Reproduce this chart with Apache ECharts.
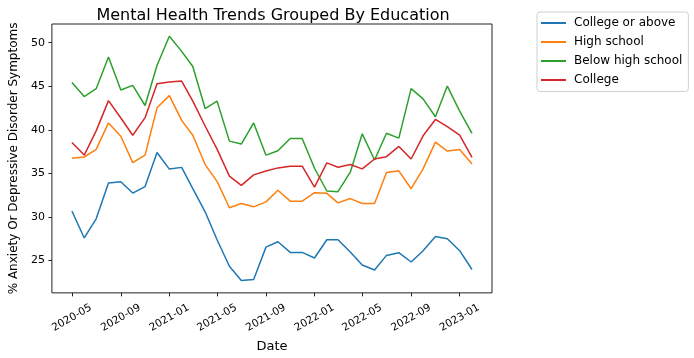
<!DOCTYPE html>
<html>
<head>
<meta charset="utf-8">
<script src="https://cdn.jsdelivr.net/npm/echarts@6/dist/echarts.min.js"></script>
<style>
  html, body { margin: 0; padding: 0; background: #fff; }
  #chart { width: 694px; height: 358px; }
</style>
</head>
<body>
<div id="chart"></div>
<script>
const months = ['2020-05','2020-06','2020-07','2020-08','2020-09','2020-10','2020-11','2020-12',
  '2021-01','2021-02','2021-03','2021-04','2021-05','2021-06','2021-07','2021-08','2021-09','2021-10','2021-11','2021-12',
  '2022-01','2022-02','2022-03','2022-04','2022-05','2022-06','2022-07','2022-08','2022-09','2022-10','2022-11','2022-12',
  '2023-01','2023-02'];

const collegeOrAbove = [30.7, 27.6, 29.8, 33.9, 34.05, 32.75, 33.5, 37.4, 35.5, 35.7, 33.25, 30.6, 27.4, 24.35, 22.72, 22.84,
  26.55, 27.16, 25.94, 25.94, 25.3, 27.39, 27.39, 25.98, 24.5, 23.93, 25.6, 25.91, 24.84, 26.14, 27.76, 27.5, 26.14, 23.98];
const highSchool = [36.74, 36.89, 37.76, 40.8, 39.27, 36.25, 37.11, 42.53, 43.93, 41.09, 39.39, 36.02, 34.09, 31.06, 31.55, 31.17,
  31.74, 33.07, 31.82, 31.82, 32.8, 32.72, 31.63, 32.12, 31.55, 31.55, 35.11, 35.3, 33.25, 35.53, 38.6, 37.57, 37.76, 36.09];
const belowHighSchool = [45.45, 43.82, 44.73, 48.36, 44.58, 45.11, 42.8, 47.39, 50.75, 49.01, 47.27, 42.45, 43.3, 38.71, 38.37, 40.8,
  37.1, 37.61, 39.01, 39.01, 35.6, 32.99, 32.91, 35.15, 39.55, 36.55, 39.61, 39.05, 44.73, 43.56, 41.51, 45.03, 42.16, 39.61];
const college = [38.56, 37.11, 39.89, 43.36, 41.36, 39.39, 41.4, 45.3, 45.5, 45.6, 43.3, 40.45, 37.8, 34.69, 33.63, 34.84,
  35.28, 35.64, 35.83, 35.83, 33.44, 36.21, 35.72, 36.02, 35.53, 36.66, 36.93, 38.1, 36.66, 39.32, 41.2, 40.38, 39.39, 36.85];

const seriesNames = ['College or above', 'High school', 'Below high school', 'College'];
const seriesValues = [collegeOrAbove, highSchool, belowHighSchool, college];
const seriesColors = ['#1f77b4', '#ff7f0e', '#2ca02c', '#d62728'];

const xTickLabels = ['2020-05','2020-09','2021-01','2021-05','2021-09','2022-01','2022-05','2022-09','2023-01'];
const yTickValues = [25, 30, 35, 40, 45, 50];

function ts(m) {
  const p = m.split('-');
  return Date.UTC(+p[0], +p[1] - 1, 1);
}
function fmt(v) {
  const d = new Date(Math.round(v));
  const mm = d.getUTCMonth() + 1;
  return d.getUTCFullYear() + '-' + (mm < 10 ? '0' : '') + mm;
}

const first = ts(months[0]);
const last = ts(months[months.length - 1]);
const margin = (last - first) * 0.05;
const xTickValues = xTickLabels.map(ts);

const FONT = 'DejaVu Sans';
const chart = echarts.init(document.getElementById('chart'), null, { renderer: 'canvas' });

chart.setOption({
  animation: false,
  backgroundColor: '#fff',
  textStyle: { fontFamily: FONT },
  title: {
    text: 'Mental Health Trends Grouped By Education',
    left: 268, top: 3, textAlign: 'center',
    textStyle: { fontFamily: FONT, fontSize: 16, fontWeight: 'normal', color: '#000' }
  },
  legend: {
    orient: 'vertical',
    left: 537, top: 12,
    padding: [1.5, 6, 2, 4],
    itemGap: 0,
    itemWidth: 25, itemHeight: 2,
    icon: 'rect',
    borderColor: '#d0d0d0', borderWidth: 1, borderRadius: 3,
    textStyle: { fontFamily: FONT, fontSize: 12, color: '#000', lineHeight: 19, padding: [0, 0, 0, 3] },
    data: seriesNames
  },
  grid: {
    left: 47, right: 202, top: 24, bottom: 62,
    show: true, borderColor: '#222', borderWidth: 1, backgroundColor: 'transparent'
  },
  xAxis: {
    type: 'value',
    min: first - margin,
    max: last + margin,
    name: 'Date',
    nameLocation: 'middle',
    nameGap: 36.5,
    nameTextStyle: { fontFamily: FONT, fontSize: 13, color: '#000' },
    axisLine: { show: false },
    splitLine: { show: false },
    axisTick: { show: true, length: 3.5, lineStyle: { color: '#222' }, customValues: xTickValues },
    axisLabel: {
      customValues: xTickValues,
      formatter: function (v) { return fmt(v); },
      rotate: 30, align: 'center', verticalAlign: 'middle', margin: 25,
      fontFamily: FONT, fontSize: 10.5, color: '#000'
    }
  },
  yAxis: {
    type: 'value',
    min: 21.3, max: 52.15,
    name: '% Anxiety Or Depressive Disorder Symptoms',
    nameLocation: 'middle',
    nameGap: 30,
    nameTextStyle: { fontFamily: FONT, fontSize: 12, color: '#000' },
    axisLine: { show: false },
    splitLine: { show: false },
    axisTick: { show: true, length: 3.5, lineStyle: { color: '#222' }, customValues: yTickValues },
    axisLabel: {
      customValues: yTickValues,
      margin: 7,
      fontFamily: FONT, fontSize: 11, color: '#000'
    }
  },
  series: seriesNames.map(function (name, i) {
    return {
      name: name,
      type: 'line',
      showSymbol: false,
      symbol: 'none',
      color: seriesColors[i],
      lineStyle: { width: 1.5, color: seriesColors[i] },
      data: months.map(function (m, j) { return [ts(m), seriesValues[i][j]]; })
    };
  })
});
</script>
</body>
</html>
